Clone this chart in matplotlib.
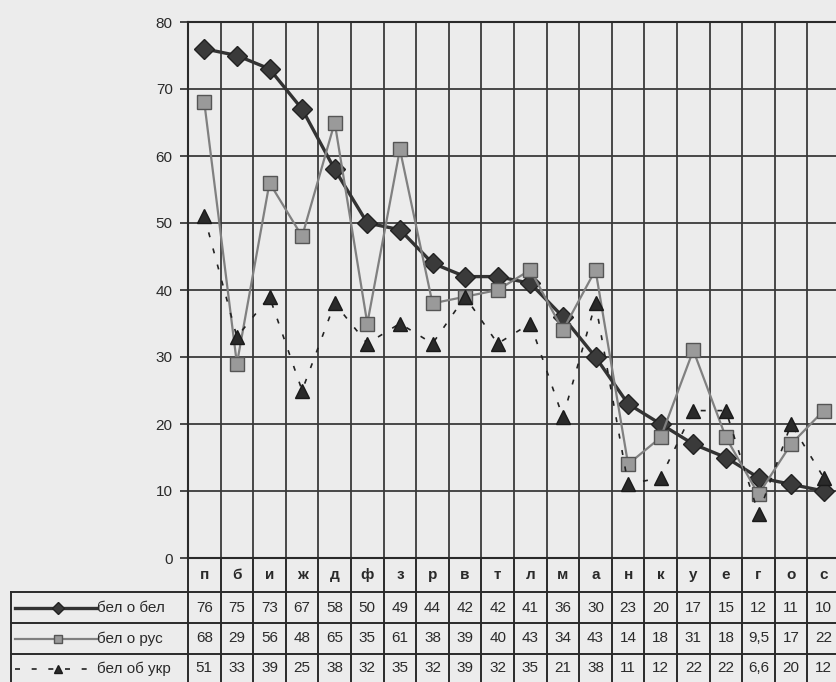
import matplotlib.pyplot as plt
import numpy as np

plt.rcParams['font.family'] = ['Liberation Sans', 'DejaVu Sans']

# данные
categories = ['п', 'б', 'и', 'ж', 'д', 'ф', 'з', 'р', 'в', 'т',
              'л', 'м', 'а', 'н', 'к', 'у', 'е', 'г', 'о', 'с']
bel_o_bel = [76, 75, 73, 67, 58, 50, 49, 44, 42, 42, 41, 36, 30, 23, 20, 17, 15, 12, 11, 10]
bel_o_rus = [68, 29, 56, 48, 65, 35, 61, 38, 39, 40, 43, 34, 43, 14, 18, 31, 18, 9.5, 17, 22]
bel_ob_ukr = [51, 33, 39, 25, 38, 32, 35, 32, 39, 32, 35, 21, 38, 11, 12, 22, 22, 6.6, 20, 12]
series_names = ['бел о бел', 'бел о рус', 'бел об укр']
y_ticks = [0, 10, 20, 30, 40, 50, 60, 70, 80]

bg = '#ececec'
ink = '#2a2a2a'
fs = 11

fig = plt.figure(figsize=(8.36, 6.82), dpi=100, facecolor=bg)
ax = fig.add_axes([188 / 836, 1 - 558 / 682, 652 / 836, 536 / 682], facecolor=bg)

x = np.arange(len(categories))

styles = [
    dict(color='#333333', lw=2.4, marker='D', ms=10, mfc='#3a3a3a', mec='#222222', ls='-'),
    dict(color='#808080', lw=1.6, marker='s', ms=9.5, mfc='#9a9a9a', mec='#555555', ls='-'),
    dict(color='#222222', lw=1.2, marker='^', ms=10, mfc='#2a2a2a', mec='#1a1a1a', ls=(0, (3, 7))),
]
series = [bel_o_bel, bel_o_rus, bel_ob_ukr]

for vals, st in zip(series, styles):
    ax.plot(x, vals, zorder=3, clip_on=False, **st)

ax.set_xlim(-0.5, len(categories) - 0.5)
ax.set_ylim(0, 80)
ax.set_yticks(y_ticks)
ax.set_yticklabels([str(v) for v in y_ticks], fontsize=fs, color=ink)
ax.set_xticks(np.arange(-0.5, len(categories), 1))
ax.set_xticklabels([])
ax.tick_params(axis='x', length=0)
ax.tick_params(axis='y', length=6, width=1.2, color=ink, pad=5)
ax.grid(True, color='#3a3a3a', lw=1.3)
ax.set_axisbelow(True)
for s in ax.spines.values():
    s.set_color(ink)
    s.set_linewidth(1.5)

# таблица данных под графиком
tab = fig.add_axes([188 / 836, 0, 652 / 836, 124 / 682], sharex=ax)
tab.set_ylim(682, 558)
tab.axis('off')
tab.patch.set_visible(False)

left = -0.5 - 177 / 32.6
row_lines = [592, 623, 654]
row_centers = [607.5, 638.5, 668.5]
lk = dict(color=ink, lw=1.4, clip_on=False)

for b in np.arange(-0.5, len(categories) + 0.5, 1):
    tab.plot([b, b], [558, 684], **lk)
for yl in row_lines:
    tab.plot([left, len(categories) - 0.5], [yl, yl], **lk)
tab.plot([left, left], [592, 684], **lk)

for i, c in enumerate(categories):
    tab.text(i, 575, c, ha='center', va='center', fontsize=fs, color=ink, fontweight='bold')

for r, (vals, name, st) in enumerate(zip(series, series_names, styles)):
    yc = row_centers[r]
    for i, v in enumerate(vals):
        lbl = str(v).replace('.', ',') if v != int(v) else str(int(v))
        tab.text(i, yc, lbl, ha='center', va='center', fontsize=fs, color=ink)
    tab.plot([left + 0.13, -3.3], [yc, yc], color=st['color'], lw=st['lw'], ls=st['ls'], clip_on=False)
    tab.plot([-4.49], [yc], marker=st['marker'], ms=6, mfc=st['mfc'], mec=st['mec'], ls='none', clip_on=False)
    tab.text(-3.28, yc, name, ha='left', va='center', fontsize=fs, color=ink)

fig.savefig('out.png', dpi=100, facecolor=bg)
